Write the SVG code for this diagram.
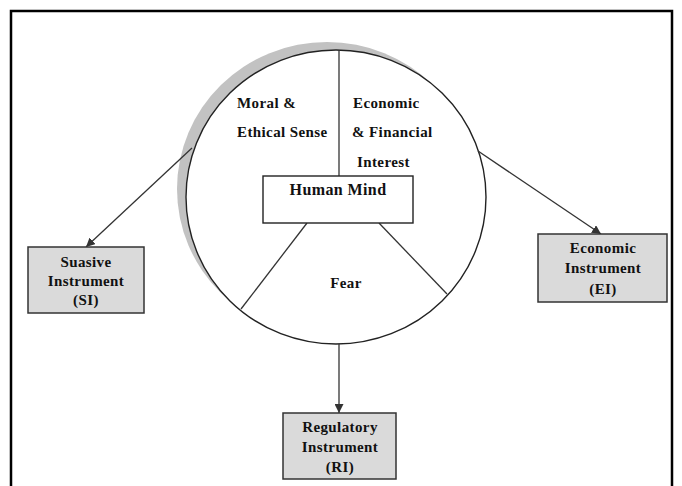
<svg xmlns="http://www.w3.org/2000/svg" width="682" height="486" viewBox="0 0 682 486">
<style>
.t{font-family:"Liberation Serif","Times New Roman",serif;font-weight:bold;font-size:15px;fill:#111;letter-spacing:0.4px}
.c{text-anchor:middle}
.ln{stroke:#333;stroke-width:1.3;fill:none}
.box{fill:#dadada;stroke:#333;stroke-width:1.5}
</style>
<defs>
<marker id="ah" viewBox="0 0 10 10" refX="10" refY="5" markerWidth="9" markerHeight="9" markerUnits="userSpaceOnUse" orient="auto">
<path d="M0,0 L10,5 L0,10 z" fill="#333"/>
</marker>
</defs>
<rect width="682" height="486" fill="#fff"/>
<g id="frame">
<path d="M11,486 V11 H672 V486" fill="none" stroke="#000" stroke-width="2.5"/>
</g>
<g id="mind-circle">
<ellipse cx="327" cy="189" rx="150" ry="147" fill="#c2c2c2"/>
<ellipse cx="336" cy="197" rx="150" ry="147" fill="#fff" stroke="#222" stroke-width="1.4"/>
<line class="ln" x1="339" y1="50" x2="339" y2="176"/>
<line class="ln" x1="307" y1="223" x2="241" y2="309"/>
<line class="ln" x1="379" y1="223" x2="447" y2="294"/>
<text class="t" x="237" y="108">Moral &amp;</text>
<text class="t" x="237" y="137">Ethical Sense</text>
<text class="t" x="353" y="108">Economic</text>
<text class="t" x="352" y="137">&amp; Financial</text>
<text class="t" x="357" y="167">Interest</text>
<text class="t c" x="346" y="288">Fear</text>
</g>
<g id="human-mind">
<rect x="263" y="176" width="150" height="47" fill="#fff" stroke="#222" stroke-width="1.4"/>
<text class="t c" x="338" y="195" style="font-size:16px">Human Mind</text>
</g>
<g id="connectors">
<line class="ln" x1="192" y1="148" x2="86" y2="247" marker-end="url(#ah)"/>
<line class="ln" x1="478" y1="151" x2="601" y2="234" marker-end="url(#ah)"/>
<line class="ln" x1="339" y1="344" x2="339" y2="413" marker-end="url(#ah)"/>
</g>
<g id="si">
<rect class="box" x="28" y="247" width="116" height="66"/>
<text class="t c" x="86" y="267">Suasive</text>
<text class="t c" x="86" y="286">Instrument</text>
<text class="t c" x="86" y="305">(SI)</text>
</g>
<g id="ei">
<rect class="box" x="538" y="234" width="129" height="68"/>
<text class="t c" x="603" y="253">Economic</text>
<text class="t c" x="603" y="273">Instrument</text>
<text class="t c" x="603" y="294">(EI)</text>
</g>
<g id="ri">
<rect class="box" x="283" y="413" width="113" height="66"/>
<text class="t c" x="340" y="432">Regulatory</text>
<text class="t c" x="340" y="452">Instrument</text>
<text class="t c" x="340" y="472">(RI)</text>
</g>
</svg>
